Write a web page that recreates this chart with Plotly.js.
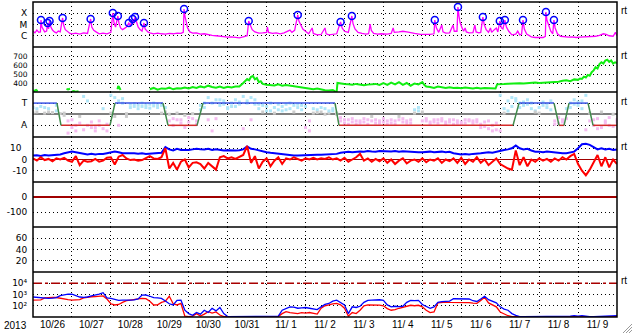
<!DOCTYPE html>
<html><head><meta charset="utf-8">
<script src="https://cdn.plot.ly/plotly-3.0.1.min.js"></script>
<style>html,body{margin:0;padding:0;background:#fff;}#chart{width:633px;height:334px;}</style>
</head><body><div id="chart"></div>
<script>
// ---- DATA (time in days since 2013-10-26 00:00 UT) ----
const xray = [[0.0,2.6e-6],[0.05,1.8e-6],[0.1,3.2e-6],[0.15,2.0e-6],[0.19,2.2e-6],[0.205,2.5e-5],[0.23,6e-6],[0.27,3e-6],[0.3,2.2e-6],[0.35,2.6e-6],[0.375,1.36e-5],[0.4,4e-6],[0.425,2.0e-5],[0.46,6e-6],[0.5,3.2e-6],[0.55,2.2e-6],[0.6,1.8e-6],[0.65,2.6e-6],[0.7,2.2e-6],[0.76,3.8e-5],[0.79,8e-6],[0.83,3.5e-6],[0.9,2.2e-6],[0.95,1.6e-6],[1.0,1.5e-6],[1.1,1.7e-6],[1.2,1.4e-6],[1.3,1.8e-6],[1.4,1.6e-6],[1.48,3.1e-5],[1.51,6e-6],[1.56,3e-6],[1.62,2.2e-6],[1.7,1.5e-6],[1.8,1.7e-6],[1.9,1.5e-6],[2.0,2.0e-6],[2.05,1.05e-4],[2.08,1.5e-5],[2.12,6e-6],[2.18,5.7e-5],[2.21,1.2e-5],[2.25,5e-6],[2.3,3.5e-6],[2.35,4.5e-6],[2.4,6e-6],[2.46,1.36e-5],[2.5,8e-6],[2.56,3.1e-5],[2.59,1.2e-5],[2.62,4.6e-5],[2.66,1.5e-5],[2.7,6e-6],[2.75,3.5e-6],[2.8,2.6e-6],[2.85,1.36e-5],[2.88,4e-6],[2.95,2.2e-6],[3.0,1.8e-6],[3.1,1.5e-6],[3.2,1.7e-6],[3.3,1.5e-6],[3.4,1.4e-6],[3.5,1.6e-6],[3.6,1.5e-6],[3.7,1.7e-6],[3.8,1.6e-6],[3.86,2.0e-6],[3.88,2.4e-4],[3.9,6e-5],[3.93,1.5e-5],[3.97,5e-6],[4.03,2.2e-6],[4.1,1.7e-6],[4.2,1.8e-6],[4.3,1.4e-6],[4.4,1.5e-6],[4.5,1.2e-6],[4.6,1.1e-6],[4.7,1.0e-6],[4.8,9e-7],[4.9,8e-7],[5.0,7.5e-7],[5.1,8e-7],[5.2,7e-7],[5.3,6.5e-7],[5.4,8e-7],[5.5,1.0e-6],[5.54,2.0e-5],[5.58,8e-6],[5.63,3.5e-6],[5.7,2.2e-6],[5.8,1.7e-6],[5.9,1.8e-6],[6.0,2.0e-6],[6.02,6e-6],[6.05,2.0e-6],[6.15,1.6e-6],[6.25,1.8e-6],[6.35,1.5e-6],[6.45,1.8e-6],[6.6,3.2e-6],[6.65,2.0e-6],[6.72,3.0e-6],[6.8,7e-5],[6.83,2e-5],[6.87,9e-6],[6.93,4e-6],[7.0,2.5e-6],[7.08,1.5e-6],[7.17,4.9e-6],[7.2,1.6e-6],[7.3,1.2e-6],[7.4,1.3e-6],[7.5,4.9e-6],[7.53,1.5e-6],[7.6,1.2e-6],[7.7,1.3e-6],[7.8,1.5e-6],[7.9,1.7e-5],[7.94,5e-6],[8.0,2.5e-6],[8.1,2.0e-6],[8.19,5.7e-5],[8.22,1.2e-5],[8.27,4e-6],[8.35,2.0e-6],[8.45,1.6e-6],[8.55,1.4e-6],[8.62,1.5e-6],[8.66,1.1e-5],[8.69,3e-6],[8.75,1.6e-6],[8.85,1.4e-6],[8.95,1.5e-6],[9.1,1.4e-6],[9.2,1.6e-6],[9.25,4.9e-6],[9.28,2.0e-6],[9.4,2.2e-6],[9.5,2.5e-6],[9.6,2.2e-6],[9.7,2.0e-6],[9.8,1.6e-6],[9.95,1.3e-6],[10.1,1.2e-6],[10.2,1.3e-6],[10.3,1.5e-6],[10.32,2.5e-5],[10.36,5e-6],[10.42,2.0e-6],[10.5,9e-6],[10.53,2.2e-6],[10.6,1.7e-6],[10.7,1.8e-6],[10.79,9e-6],[10.82,2.5e-6],[10.89,2.5e-6],[10.915,3.6e-4],[10.94,6e-5],[10.97,1.5e-5],[11.02,5e-6],[11.06,2.5e-6],[11.1,4.9e-6],[11.13,2.2e-6],[11.2,1.8e-6],[11.3,1.9e-6],[11.35,9e-6],[11.38,2.2e-6],[11.45,1.8e-6],[11.5,2.0e-6],[11.555,4.6e-5],[11.59,1e-5],[11.64,3.5e-6],[11.7,2.0e-6],[11.75,4.9e-6],[11.78,2.0e-6],[11.85,3.5e-6],[11.9,4.9e-6],[11.94,2.2e-6],[11.99,2.0e-5],[12.03,5e-6],[12.07,4e-6],[12.12,2.5e-5],[12.16,6e-6],[12.22,2.5e-6],[12.3,1.2e-6],[12.4,1.4e-6],[12.45,2.6e-6],[12.5,1.2e-6],[12.55,1.4e-6],[12.585,2.5e-5],[12.62,4e-6],[12.68,1.4e-6],[12.8,8e-7],[12.9,7e-7],[13.0,7.5e-7],[13.1,7e-7],[13.16,9e-7],[13.175,1.3e-4],[13.2,2.5e-5],[13.25,6e-6],[13.3,2.5e-6],[13.35,1.5e-6],[13.38,2.5e-5],[13.41,5e-6],[13.47,1.5e-6],[13.55,9e-7],[13.65,8e-7],[13.75,7.5e-7],[13.85,8e-7],[13.95,7e-7],[14.05,7.5e-7],[14.15,8e-7],[14.25,7.5e-7],[14.35,8e-7],[14.45,9e-7],[14.55,1.1e-6],[14.65,1.5e-6],[14.72,1.3e-6],[14.8,1.0e-6],[14.9,9e-7],[14.96,2.0e-6],[15.0,1.0e-6]];

const flares = [[0.205,2.5e-5],[0.375,1.36e-5],[0.425,2.0e-5],[0.76,3.8e-5],[1.48,3.1e-5],[2.05,1.05e-4],[2.18,5.7e-5],[2.46,1.36e-5],[2.56,3.1e-5],[2.62,4.6e-5],[2.85,1.36e-5],[3.88,2.4e-4],[5.54,2.0e-5],[6.8,7e-5],[7.9,1.7e-5],[8.19,5.7e-5],[10.32,2.5e-5],[10.915,3.6e-4],[11.555,4.6e-5],[11.99,2.0e-5],[12.12,2.5e-5],[12.585,2.5e-5],[13.175,1.3e-4],[13.38,2.5e-5]];

const speed = [[0.0,318],[0.04,312],[0.08,322],[0.12,310],[0.13,null],[0.86,335],[0.9,328],[0.95,336],[0.97,null],[1.0,305],[1.05,310],[1.1,302],[1.17,308],[1.18,null],[2.17,330],[2.19,367],[2.21,355],[2.25,322],[2.26,null],
[3.0,330],[3.1,345],[3.2,325],[3.3,340],[3.4,335],[3.5,348],[3.6,330],[3.7,342],[3.8,338],[3.9,350],[4.0,340],[4.1,355],[4.2,345],[4.3,362],[4.4,350],[4.5,370],[4.6,355],[4.7,348],[4.8,360],[4.9,345],[5.0,358],[5.1,350],[5.2,362],[5.3,360],[5.4,400],[5.45,420],[5.5,445],[5.55,430],[5.6,470],[5.65,478],[5.7,440],[5.75,455],[5.8,410],[5.85,420],[5.9,390],[6.0,380],[6.1,378],[6.2,372],[6.3,385],[6.4,370],[6.5,378],[6.6,372],[6.7,360],[6.8,358],[6.9,356],[7.0,350],[7.1,340],[7.2,330],[7.3,338],[7.4,325],[7.5,320],[7.6,318],[7.7,322],[7.75,310],[7.8,305],[7.82,400],[7.9,392],[8.0,388],[8.1,385],[8.2,380],[8.3,390],[8.4,380],[8.5,375],[8.6,382],[8.7,385],[8.8,390],[8.9,378],[9.0,398],[9.1,380],[9.2,405],[9.3,385],[9.4,410],[9.5,380],[9.6,400],[9.7,370],[9.8,395],[9.9,385],[10.0,410],[10.05,380],[10.1,360],[10.2,355],[10.3,345],[10.4,360],[10.5,350],[10.6,345],[10.7,352],[10.8,345],[10.9,348],[11.0,342],[11.1,350],[11.2,345],[11.3,340],[11.4,346],[11.5,338],[11.6,345],[11.7,340],[11.8,343],[11.88,338],[11.92,385],[12.0,390],[12.1,388],[12.2,392],[12.3,395],[12.4,390],[12.5,398],[12.6,395],[12.7,400],[12.8,398],[12.9,405],[13.0,400],[13.2,405],[13.4,410],[13.5,415],[13.6,425],[13.7,430],[13.8,420],[13.9,440],[14.0,435],[14.05,450],[14.1,445],[14.15,470],[14.2,460],[14.25,490],[14.3,480],[14.35,520],[14.4,540],[14.45,575],[14.5,560],[14.55,610],[14.6,630],[14.65,615],[14.7,650],[14.75,660],[14.8,635],[14.85,650],[14.9,615],[14.95,630],[15.0,620]];

// IMF sector: +1 toward, -1 away
const sectorT = [0, 0.616, 0.719, 1.978, 2.106, 3.339, 3.468, 4.213, 4.367, 7.757, 7.86, 12.33, 12.484, 13.383, 13.511, 13.64, 13.768, 14.256, 14.385, 15.0];
const sectorV = [1, 1, -1, -1, 1, 1, -1, -1, 1, 1, -1, -1, 1, 1, -1, -1, 1, 1, -1, -1];

// common 0.1-day sampling times
const t10 = [0,0.1,0.2,0.3,0.4,0.5,0.6,0.7,0.8,0.9,1,1.1,1.2,1.3,1.4,1.5,1.6,1.7,1.8,1.9,2,2.1,2.2,2.3,2.4,2.5,2.6,2.7,2.8,2.9,3,3.1,3.2,3.3,3.4,3.5,3.6,3.7,3.8,3.9,4,4.1,4.2,4.3,4.4,4.5,4.6,4.7,4.8,4.9,5,5.1,5.2,5.3,5.4,5.5,5.6,5.7,5.8,5.9,6,6.1,6.2,6.3,6.4,6.5,6.6,6.7,6.8,6.9,7,7.1,7.2,7.3,7.4,7.5,7.6,7.7,7.8,7.9,8,8.1,8.2,8.3,8.4,8.5,8.6,8.7,8.8,8.9,9,9.1,9.2,9.3,9.4,9.5,9.6,9.7,9.8,9.9,10,10.1,10.2,10.3,10.4,10.5,10.6,10.7,10.8,10.9,11,11.1,11.2,11.3,11.4,11.5,11.6,11.7,11.8,11.9,12,12.1,12.2,12.3,12.4,12.5,12.6,12.7,12.8,12.9,13,13.1,13.2,13.3,13.4,13.5,13.6,13.7,13.8,13.9,14,14.1,14.2,14.3,14.4,14.5,14.6,14.7,14.8,14.9,15];

// IMF direction samples (scatter)
const dirA = [0.6,0.2,0.7,0.1,0.5,0.15,0.8,0.05,0.1,-0.6, -1.2,-1.5,-0.8,1.6,1.2,-1.2,-1.5,-1.0,-1.3,-0.9, 1.7,1.5,1.2,1.0,-0.2,0.9,0.7,0.8,1.0,0.6, 0.9,0.75,0.85,0.8,0.2,-0.6,-1.0,-0.5,-0.8,-1.2, -0.7,-0.4,-0.9,0.8,1.0,1.5,1.0,1.3,0.8,1.2, 0.6,1.0,0.7,1.1,1.6,1.2,1.5,0.9,0.5,0.8, 0.3,1.0,0.6,0.4,0.7,0.9,0.5,0.8,0.6,0.8, -1.2,-0.6,0.1,0.4,0.2,0.5,0.1,0.3,0.1,-0.6, -0.8,-0.5,-0.7,-0.9,-0.6,-0.7,-0.5,-0.2,-0.8,-0.6, -0.7,-0.9,-0.5,-0.6,-0.2,-0.7,-0.8,-0.5,0.4,0.6, 0.2,-0.6,-0.7,-0.5,-0.8,-0.6,-0.7,-0.5,-0.9,-0.6, -0.7,-0.8,-0.5,-0.6,-0.7,-0.9,-1.1,-1.3,-1.0,-1.4, 1.7,0.5,1.2,1.5,1.2,1.0,0.8,1.3,1.0,0.3, 0.1,1.1,0.9,1.2,-0.6,-0.8,-0.5,-0.4,1.0,1.3, 0.8,1.2,1.7,-0.6,-1.0,-0.4,-1.2,-0.8,-0.3,-1.1,-0.7];
const dirB = [0.1,0.5,null,0.6,0.2,null,0.3,null,-0.1,-1.7, -0.5,-1.0,-0.2,-1.4,-1.0,-0.7,-1.2,-0.6,0.5,-1.5, 0.1,-0.2,-1.0,1.4,0.05,0.6,0.95,0.5,0.7,0.85, 0.55,1.0,0.6,0.1,0.6,0.0,-0.4,0.1,-0.5,-0.1, -0.3,0.05,-0.6,0.4,0.6,-0.5,-1.5,-0.4,1.3,0.9, 0.5,0.7,1.3,0.9,-1.3,1.0,-0.5,1.3,0.9,0.2, 0.7,0.3,0.1,0.9,0.3,0.4,1.0,0.2,0.9,0.4, 0.7,-1.5,0.5,0.15,0.6,0.0,0.3,0.5,0.0,-0.3, -0.5,-0.9,-0.4,-0.6,-0.8,-0.4,-0.9,-0.6,-0.5,-0.8, -0.4,-0.6,-0.8,-0.9,-0.5,-0.4,-0.6,-0.8,0.1,0.3, -0.6,-0.4,-0.9,-0.7,-0.5,-0.4,-0.9,-0.7,-0.5,-0.8, -0.9,-0.5,-0.6,-0.8,-0.5,-1.2,-0.7,-0.6,-1.5,-0.8, -1.5,0.1,0.3,0.7,1.4,0.6,1.1,0.9,0.5,0.2, 0.6,0.8,0.6,0.4,-0.9,-0.3,-0.7,0.5,0.6,0.9, 1.1,0.5,-1.4,0.1,-0.5,-1.3,0.2,-0.6,-1.0,0.0,-0.5];

// IMF Bt and Bz (nT)
const bt = [3.5,3.8,3.2,4,3.6,3.9,4.2,4.5,5.5,6.5, 7,6.5,6,5,4.5,5,4.5,5,4.8,5.5, 6.5,7,6.5,5.5,5.5,5.8,5.5,5.2,5.5,5, 5.2,5,5.5,6,11,9,8,9.5,8.5,8.3, 8.5,9,9.5,9.2,9,9.5,8.5,9,8.5,8, 8.2,7.8,8,8.3,9,11.5,9.5,9,8,7, 6.5,6,5.5,5.5,5,4.5,4,3.5,3.5,3.8, 3.5,4,4.2,4.3,4.2,4.4,4.3,4.5,5,6, 6.5,6.8,6.5,7,7.2,7,7.5,7.2,7,7.5, 7.3,7.5,7.2,7.5,7,7.3,7,6.8,7,6.5, 6.5,6.8,7,6.5,7,7,6.5,6.8,5.5,5, 4.5,4.8,4.5,5,5,5.5,6,6.5,6,7, 7.5,8.5,9,10,12.5,10,9,9.5,8,7, 7,6.5,7,6.5,6,5.5,5.5,5.5,6,7, 10,13.5,14,13,11,9,10,9,9.5,8.5,9];
const bz = [1,-1,2,-0.5,0.5,-1.5,1,0,1.5,-1, -2,3,-5,-1,-2,-1.5,0.5,-2,-1,1.5, 2,-4.5,2.5,4,1,-0.5,0,-1,-0.5,1.5, 3,1,0.5,2,10,-8,-3,-9,-2,0, -7,-3,-2.5,-4,-8,-3,-6,-9,2,3, 1,2,0.5,2,4,12,-3,3,-8,-2, 1,-6,-1,2,-4,1,0,2,0.5,-1, 1,0,1.5,0,1,0.5,2,0,1,-1, 1.5,-2,0,2,5,-1,1,-2,0.5,-1.5, 1,-3,0,-4,-1,1,-3.5,-1,0,-2, 1,-2.5,0,-1,1,-3,0,-1.5,1,-3, 1.5,-4,0,-2,2,-3,0,-5,-2,1, -4,-6,-8,-9,8,-5,2,-6,0,-2, 1,-1,0.5,-2,1,-1,2,0,3,5, -4,-10,-14,-9,-3,4,-6,2,-7,0,-4];

// energetic particle fluxes (log axis)
const fluxBlue = [600,560,500,460,450,470,520,800,1000,1100, 1050,800,600,560,600,750,880,1100,1450,500, 450,350,300,320,300,320,330,400,880,900, 700,520,500,450,260,150,117,300,320,40, 20,14,25,18,40,25,60,35,70,20, 11,11,10.5,11,10.5,11,10.5,10.5,11,10.5, 11,10.5,11,12,40,60,80,75,60,65, 70,60,50,45,80,130,160,260,316,200, 120,20,80,70,90,200,300,320,350,340, 300,120,80,90,85,90,200,300,280,300, 130,90,60,80,200,230,250,260,420,430, 430,420,400,280,240,400,700,350,250,180, 80,50,40,20,14,11,10.5,10.5,10.5,11, 10.5,10.5,10.5,11,10.5,10.5,10.5,11,12,13, 12,13,11,10.5,10.5,11,10.5,12,13,12,13];
const fluxRed = [320,320,330,500,560,560,540,450,400,350, 320,330,350,500,600,630,650,700,740,400, 150,117,130,200,280,316,330,400,460,430, 250,117,120,200,250,700,150,117,160,12, 11,12,20,12,18,30,22,28,15,11, 10.5,10.5,10.5,10.5,10.5,10.5,10.5,10.5,10.5,10.5, 10.5,10.5,10.5,11,20,30,25,22,20,24, 22,25,20,18,60,100,117,150,160,120, 60,12,25,20,40,100,117,120,117,115, 100,56,40,45,60,70,90,110,100,110, 80,40,25,28,180,200,210,200,200,210, 200,200,190,170,160,300,560,180,120,80, 28,18,13,11,10.5,10.5,10.5,10.5,10.5,10.5, 10.5,11,10.5,10.5,10.5,10.5,10.5,10.5,11,10.5, 10.5,11,10.5,10.5,10.5,10.5,11,10.5,10.5,10.5,11];
const fluxThreshold = [[0,1e4],[15,1e4]];

// tick values and labels
const xrayTicks = [1e-6,1e-5,1e-4], xrayText = ['C','M','X'];
const speedTicks = [400,500,600,700];
const sectorTicks = [1,-1], sectorText = ['T','A'];
const bTicks = [10,0,-10], bText = ['10\u00a0\u00a0','0','-10'];
const dstTicks = [0,-100], dstText = ['0','-100'];
const aeTicks = [20,40,60];
const fluxTicks = [100,1000,10000], fluxText = ['10\u00b2','10\u00b3','10\u2074'];

// ---- helpers ----
const BASE = Date.UTC(2013, 9, 26);
const DAY = 86400000;
function td(d){ return new Date(BASE + Math.round(d*DAY)).toISOString().slice(0,19).replace('T',' '); }
const X0 = '2013-10-26', X1 = '2013-11-10';

const FONT = 'Liberation Sans, Arial, Helvetica, sans-serif';
const YFONT = 'DejaVu Sans, Liberation Sans, sans-serif';
function yid(k){ return k===1 ? 'y' : 'y'+k; }
function xid(k){ return k===7 ? 'x' : 'x'+(k+1); }
function axName(id){ return id.charAt(0)+'axis'+id.slice(1); }

const gridCommon = {showgrid:true, gridcolor:'#000', gridwidth:1, griddash:'1px,3px', zeroline:false, showline:false, fixedrange:true};

const layout = {
  width:633, height:334, margin:{l:33, r:16, t:2, b:17, pad:0},
  paper_bgcolor:'#fff', plot_bgcolor:'#fff', showlegend:false,
  font:{family:FONT, size:12, color:'#000'},
  shapes:[], annotations:[]
};
for(let k=1;k<=7;k++){
  const xa = Object.assign({}, gridCommon, {type:'date', range:[X0,X1], dtick:DAY, tick0:X0,
    anchor:yid(k), domain:[0,1], ticks:'', showticklabels:false});
  if(k===7){ Object.assign(xa, {showticklabels:true, ticklabelmode:'period', tickformat:'%-m/%e', tickfont:{size:10, family:FONT, color:'#000'}}); }
  else { xa.matches = 'x'; }
  layout[axName(xid(k))] = xa;
  layout[axName(yid(k))] = Object.assign({}, gridCommon, {anchor:xid(k), domain:[(7-k)/7,(8-k)/7],
    ticks:'outside', ticklen:3, tickcolor:'rgba(0,0,0,0)', tickfont:{size:9, family:YFONT, color:'#000'}, tickmode:'array'});
}
Object.assign(layout.yaxis, {type:'log', range:[-7,-3], tickvals:xrayTicks, ticktext:xrayText});
Object.assign(layout.yaxis2, {range:[300,800], tickvals:speedTicks, ticktext:speedTicks.map(String), tickfont:{size:7.5, family:YFONT, color:'#000'}});
Object.assign(layout.yaxis3, {range:[-2.05,2.0], tickvals:sectorTicks, ticktext:sectorText, zeroline:true, zerolinecolor:'#808080', zerolinewidth:1.5});
Object.assign(layout.yaxis4, {range:[-20,20], tickvals:bTicks, ticktext:bText, zeroline:true, zerolinecolor:'#a00000', zerolinewidth:1.5});
Object.assign(layout.yaxis5, {range:[-200,100], tickvals:dstTicks, ticktext:dstText, zeroline:true, zerolinecolor:'#a00000', zerolinewidth:1.5});
Object.assign(layout.yaxis6, {range:[0,80], tickvals:aeTicks, ticktext:aeTicks.map(String)});
Object.assign(layout.yaxis7, {type:'log', range:[1,5], tickvals:fluxTicks, ticktext:fluxText});

// frame and panel dividers
layout.shapes.push({type:'rect', xref:'paper', yref:'paper', x0:0, x1:1, y0:0, y1:1, line:{color:'#000', width:1.5}, layer:'above'});
for(let k=1;k<7;k++) layout.shapes.push({type:'line', xref:'paper', yref:'paper', x0:0, x1:1, y0:k/7, y1:k/7, line:{color:'#000', width:1.5}, layer:'above'});
function px(x){ return (x-33)/584; } function py(y){ return (317-y)/315; }
[[623,333,632,324],[626,333,632,327],[629,333,632,330]].forEach(s=>{
  layout.shapes.push({type:'line', xref:'paper', yref:'paper', x0:px(s[0]), y0:py(s[1]), x1:px(s[2]), y1:py(s[3]), line:{color:'#9a9a9a', width:1}});
});
[10.5, 56, 101, 146, 280.5].forEach(y=>{
  layout.annotations.push({xref:'paper', yref:'paper', x:1, y:py(y), xanchor:'left', yanchor:'middle', xshift:2, text:'rt', showarrow:false, font:{size:10, family:FONT, color:'#000'}});
});
layout.annotations.push({xref:'paper', yref:'paper', x:px(15), y:py(325.5), xanchor:'center', yanchor:'middle', text:'2013', showarrow:false, font:{size:10, family:FONT, color:'#000'}});

// ---- traces ----
const traces = [];
const sub = k => ({xaxis:xid(k), yaxis:yid(k)});
traces.push(Object.assign({type:'scatter', mode:'lines', x:xray.map(p=>td(p[0])), y:xray.map(p=>p[1]), line:{color:'#ff00ff', width:1.3}, hoverinfo:'skip'}, sub(1)));
traces.push(Object.assign({type:'scatter', mode:'markers', x:flares.map(p=>td(p[0])), y:flares.map(p=>p[1]), marker:{symbol:'circle-open', size:7, color:'#0000ff', line:{width:1.5, color:'#0000ff'}}, hoverinfo:'skip'}, sub(1)));

traces.push(Object.assign({type:'scatter', mode:'lines', x:speed.map(p=>td(p[0])), y:speed.map(p=>p[1]), line:{color:'#11ee11', width:2}, connectgaps:false, hoverinfo:'skip'}, sub(2)));

function dirColor(v){ return v>=0.3 ? '#b0e6f8' : (v<=-0.3 ? '#f5bcf0' : '#cccccc'); }
[dirA, dirB].forEach(arr=>{
  traces.push(Object.assign({type:'scatter', mode:'markers', x:t10.map(td), y:arr,
    marker:{symbol:'square', size:3, color:arr.map(v=>v===null?'#fff':dirColor(v)), line:{width:0}}, hoverinfo:'skip'}, sub(3)));
});
const seg = {T:{x:[],y:[]}, A:{x:[],y:[]}, G:{x:[],y:[]}};
for(let i=0;i<sectorT.length-1;i++){
  const a=sectorV[i], b=sectorV[i+1];
  const key = (a===1&&b===1)?'T':((a===-1&&b===-1)?'A':'G');
  seg[key].x.push(td(sectorT[i]), td(sectorT[i+1]), null);
  seg[key].y.push(a, b, null);
}
traces.push(Object.assign({type:'scatter', mode:'lines', x:seg.T.x, y:seg.T.y, line:{color:'#3a55e6', width:1.5}, hoverinfo:'skip'}, sub(3)));
traces.push(Object.assign({type:'scatter', mode:'lines', x:seg.A.x, y:seg.A.y, line:{color:'#d42a2a', width:1.5}, hoverinfo:'skip'}, sub(3)));
traces.push(Object.assign({type:'scatter', mode:'lines', x:seg.G.x, y:seg.G.y, line:{color:'#3f8a4a', width:1.5}, hoverinfo:'skip'}, sub(3)));

traces.push(Object.assign({type:'scatter', mode:'lines', x:t10.map(td), y:bt, line:{color:'#0000ff', width:2}, hoverinfo:'skip'}, sub(4)));
traces.push(Object.assign({type:'scatter', mode:'lines', x:t10.map(td), y:bz, line:{color:'#ff0000', width:2}, hoverinfo:'skip'}, sub(4)));

traces.push(Object.assign({type:'scatter', mode:'lines', x:[], y:[], hoverinfo:'skip'}, sub(5)));
traces.push(Object.assign({type:'scatter', mode:'lines', x:[], y:[], hoverinfo:'skip'}, sub(6)));

traces.push(Object.assign({type:'scatter', mode:'lines', x:fluxThreshold.map(p=>td(p[0])), y:fluxThreshold.map(p=>p[1]), line:{color:'#a80000', width:1.5, dash:'9px,3px,3px,3px'}, hoverinfo:'skip'}, sub(7)));
traces.push(Object.assign({type:'scatter', mode:'lines', x:t10.map(td), y:fluxRed, line:{color:'#ff0000', width:1.3}, hoverinfo:'skip'}, sub(7)));
traces.push(Object.assign({type:'scatter', mode:'lines', x:t10.map(td), y:fluxBlue, line:{color:'#0000ff', width:1.3}, hoverinfo:'skip'}, sub(7)));

Plotly.newPlot('chart', traces, layout, {staticPlot:true, displayModeBar:false});
</script></body></html>
